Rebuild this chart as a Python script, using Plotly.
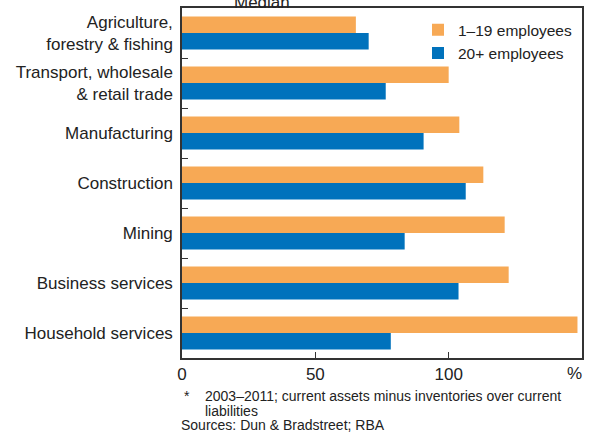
import plotly.graph_objects as go

categories = ["Agriculture,<br>forestry & fishing", "Transport, wholesale<br>& retail trade",
              "Manufacturing", "Construction", "Mining", "Business services", "Household services"]
small_firms = [65.2, 100.0, 104.0, 113.0, 121.0, 122.5, 148.3]
large_firms = [70.0, 76.4, 90.6, 106.4, 83.5, 103.7, 78.3]
x_tickvals = [0, 50, 100]
x_ticktext = ["0", "50", "100"]
unit_label = "%"
title_text = "Median"
footnote_lines = ["2003–2011; current assets minus inventories over current", "liabilities"]
source_text = "Sources: Dun & Bradstreet; RBA"

fig = go.Figure()
fig.add_trace(go.Bar(y=categories, x=small_firms, orientation="h", name="1–19 employees",
                     marker=dict(color="#F7A955", line=dict(width=0))))
fig.add_trace(go.Bar(y=categories, x=large_firms, orientation="h", name="20+ employees",
                     marker=dict(color="#0072BC", line=dict(width=0))))

axis_line = "#333333"
txt = "#222222"
fig.update_layout(
    width=594, height=434,
    margin=dict(l=182, r=12, t=8, b=76, autoexpand=False),
    paper_bgcolor="white", plot_bgcolor="white",
    barmode="group", bargap=0.34, bargroupgap=0.0,
    font=dict(family="Liberation Sans, Arial, sans-serif", size=17, color=txt),
    showlegend=True,
    legend=dict(x=0.59, y=0.985, xanchor="left", yanchor="top", bgcolor="rgba(0,0,0,0)",
                font=dict(size=15.5), itemwidth=30, tracegroupgap=0),
    xaxis=dict(range=[0, 150], tickvals=x_tickvals, ticktext=x_ticktext,
               ticks="inside", ticklen=6, tickcolor=axis_line, tickwidth=1.2,
               showgrid=False, zeroline=False,
               showline=True, linecolor=axis_line, linewidth=1.5, mirror=True),
    yaxis=dict(categoryorder="array", categoryarray=categories, autorange="reversed",
               ticks="inside", tickson="boundaries", ticklen=6, tickcolor=axis_line, tickwidth=1.2,
               showgrid=False, zeroline=False, showline=True, linecolor=axis_line,
               linewidth=1.5, mirror=True, ticklabelstandoff=4),
)

fig.add_annotation(text=unit_label, xref="paper", yref="paper", x=1, y=0, xanchor="right",
                   yanchor="top", yshift=-4, xshift=2, showarrow=False, font=dict(size=17))
fig.add_annotation(text=title_text, xref="paper", yref="paper", x=(262 - 182) / 400, y=1.0,
                   yshift=-6, yanchor="bottom", xanchor="center", showarrow=False,
                   font=dict(size=17))
fig.add_annotation(text="*", xref="paper", yref="paper", x=0, y=0, yshift=-28,
                   xanchor="left", yanchor="top", showarrow=False, font=dict(size=14))
fig.add_annotation(text=footnote_lines[0], xref="paper", yref="paper", x=0, y=0,
                   xshift=21, yshift=-28, xanchor="left", yanchor="top", showarrow=False,
                   font=dict(size=14))
fig.add_annotation(text=footnote_lines[1], xref="paper", yref="paper", x=0, y=0,
                   xshift=21, yshift=-43, xanchor="left", yanchor="top", showarrow=False,
                   font=dict(size=14))
fig.add_annotation(text=source_text, xref="paper", yref="paper", x=0, y=0,
                   xshift=-3, yshift=-57, xanchor="left", yanchor="top", showarrow=False,
                   font=dict(size=14))

fig.write_html("out.html", config={"displayModeBar": False},
               post_script="document.body.style.margin='0';")
